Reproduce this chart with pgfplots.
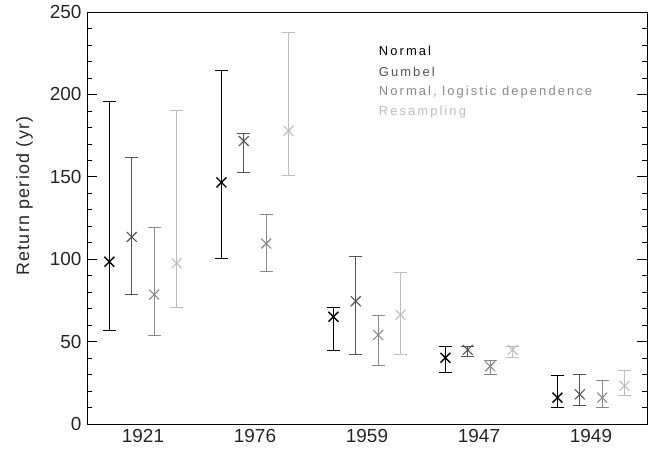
\documentclass[border=0pt]{standalone}
\usepackage{fontspec}
\setmainfont{Liberation Sans}
\newfontfamily\legfont[LetterSpace=16]{Liberation Sans}
\newfontfamily\labfont[LetterSpace=7]{Liberation Sans}
\usepackage{pgfplots}
\usepackage{pgfplotstable}
\pgfplotsset{compat=1.18}

\definecolor{cNormal}{HTML}{000000}
\definecolor{cGumbel}{HTML}{555555}
\definecolor{cLogis}{HTML}{888888}
\definecolor{cResamp}{HTML}{BDBDBD}

% columns: x position, central estimate, lower and upper bound
\pgfplotstableread{
x    y      lo     hi
0.2  98.5   57.0   195.5
1.2  146.6  100.5  214.5
2.2  65.1   44.5   70.6
3.2  40.2   31.4   47.0
4.2  16.0   9.9    29.5
}\tNormal
\pgfplotstableread{
x    y      lo     hi
0.4  113.5  78.5   161.5
1.4  171.7  152.7  176.5
2.4  74.5   42.5   101.5
3.4  45.0   41.0   47.0
4.4  18.0   11.5   30.3
}\tGumbel
\pgfplotstableread{
x    y      lo     hi
0.6  78.5   53.5   119.0
1.6  109.5  92.5   127.0
2.6  54.0   35.5   66.0
3.6  35.0   30.0   38.5
4.6  16.0   10.0   26.5
}\tLogis
\pgfplotstableread{
x    y      lo     hi
0.8  97.5   70.8   190.5
1.8  178.0  150.8  237.5
2.8  66.3   42.0   91.8
3.8  45.0   40.5   46.8
4.8  23.2   17.3   32.2
}\tResamp

\begin{document}
\begin{tikzpicture}
\begin{axis}[
  name=ax,
  scale only axis,
  width=560bp, height=412bp,
  xmin=0, xmax=5, ymin=0, ymax=250,
  axis line style={black, line width=0.8pt},
  xtick={0.5,1.5,2.5,3.5,4.5},
  xticklabels={1921,1976,1959,1947,1949},
  major x tick style={draw=none},
  extra x ticks={1,2,3,4},
  extra x tick labels={},
  extra x tick style={major tick length=8bp, tick style={black, line width=0.6pt}, grid=none},
  ytick={0,50,...,250},
  minor y tick num=4,
  major tick length=10bp,
  minor tick length=5bp,
  tick style={black, line width=0.6pt},
  tick align=inside,
  xtick pos=both, ytick pos=both,
  xticklabel pos=bottom, yticklabel pos=left,
  tick label style={font=\fontsize{19}{20}\selectfont, color=black!85},
  /pgf/number format/assume math mode=true,
  xticklabel style={yshift=-2bp},
  yticklabel style={xshift=-2bp},
  ylabel={\labfont Return period (yr)},
  ylabel style={font=\fontsize{18}{19}\selectfont, color=black!85,
    at={([xshift=-54bp]rel axis cs:0,0.553)}, anchor=south, inner sep=0pt},
  clip=false,
]
\pgfplotsset{
  errstyle/.style={
    error bars/.cd, y dir=both, y explicit,
    error mark=-,
    error mark options={rotate=90, mark size=6.5bp, line width=0.9pt, #1},
    error bar style={line width=0.7pt, #1},
  },
}
\addplot[only marks, mark=x, mark size=7bp, line width=1.4pt, color=cNormal,
  errstyle=cNormal]
  table[x=x, y=y, y error plus expr=\thisrow{hi}-\thisrow{y},
        y error minus expr=\thisrow{y}-\thisrow{lo}] {\tNormal};
\addplot[only marks, mark=x, mark size=7bp, line width=1.1pt, color=cGumbel,
  errstyle=cGumbel]
  table[x=x, y=y, y error plus expr=\thisrow{hi}-\thisrow{y},
        y error minus expr=\thisrow{y}-\thisrow{lo}] {\tGumbel};
\addplot[only marks, mark=x, mark size=7bp, line width=1.1pt, color=cLogis,
  errstyle=cLogis]
  table[x=x, y=y, y error plus expr=\thisrow{hi}-\thisrow{y},
        y error minus expr=\thisrow{y}-\thisrow{lo}] {\tLogis};
\addplot[only marks, mark=x, mark size=7bp, line width=1.1pt, color=cResamp,
  errstyle=cResamp]
  table[x=x, y=y, y error plus expr=\thisrow{hi}-\thisrow{y},
        y error minus expr=\thisrow{y}-\thisrow{lo}] {\tResamp};

% method key
\begin{scope}[every node/.style={anchor=west, inner sep=0pt,
    font=\legfont\fontsize{13}{14}\selectfont}]
\node[text=cNormal]  at (axis cs:2.605,226.3) {Normal};
\node[text=cGumbel]  at (axis cs:2.605,213.4) {Gumbel};
\node[text=cLogis]   at (axis cs:2.605,201.2) {Normal, logistic dependence};
\node[text=cResamp]  at (axis cs:2.605,189.3) {Resampling};
\end{scope}
\end{axis}
\pgfresetboundingbox
\path ([xshift=-87bp,yshift=-25bp]ax.south west) rectangle ([xshift=2bp,yshift=12bp]ax.north east);
\end{tikzpicture}
\end{document}
